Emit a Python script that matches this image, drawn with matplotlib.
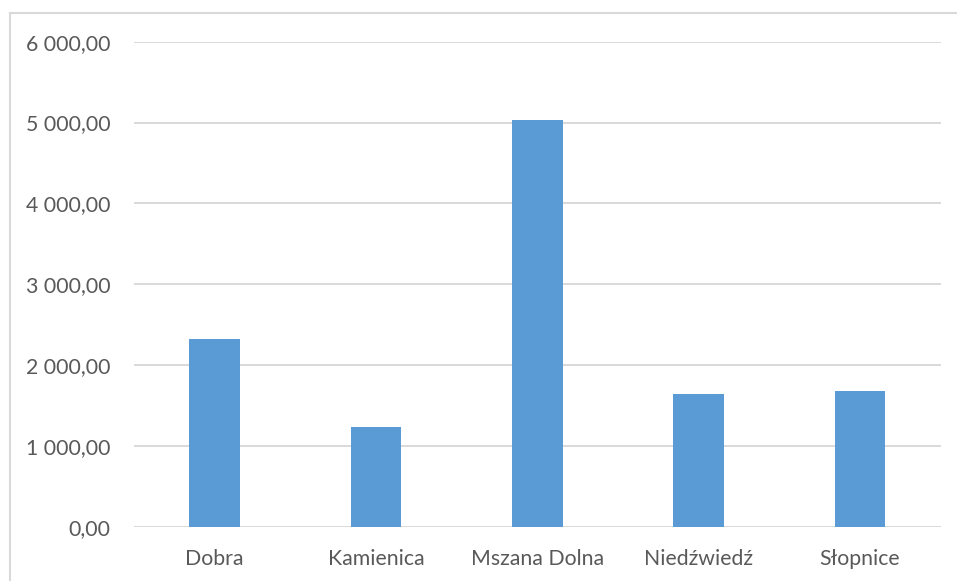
import matplotlib
matplotlib.use("Agg")
import matplotlib.pyplot as plt
from matplotlib.lines import Line2D
from matplotlib.ticker import FuncFormatter

categories = ["Dobra", "Kamienica", "Mszana Dolna", "Niedźwiedź", "Słopnice"]
values = [2330, 1232, 5027, 1641, 1682]
yticks = [0, 1000, 2000, 3000, 4000, 5000, 6000]

W, H = 957, 581
fig = plt.figure(figsize=(W / 100, H / 100), dpi=100)
fig.patch.set_facecolor("white")

left, right, top, bottom = 134, 940.7, 41.7, 527
ax = fig.add_axes([left / W, (H - bottom) / H, (right - left) / W, (bottom - top) / H])

x = list(range(len(categories)))
ax.bar(x, values, width=0.313, color="#5B9BD5", zorder=3)
ax.set_xlim(-0.5, len(categories) - 0.5)
ax.set_ylim(0, 6000)
ax.set_yticks(yticks)
ax.yaxis.set_major_formatter(FuncFormatter(lambda v, p: f"{v:,.2f}".replace(",", " ").replace(".", ",")))
ax.set_xticks(x)
ax.set_xticklabels(categories)
ax.grid(axis="y", color="#D9D9D9", linewidth=1.4, zorder=0)
for s in ax.spines.values():
    s.set_visible(False)
ax.tick_params(axis="both", length=0, labelsize=15.3, colors="#595959")
ax.tick_params(axis="y", pad=17)
ax.tick_params(axis="x", pad=16)
for lab in ax.get_xticklabels() + ax.get_yticklabels():
    lab.set_family("Lato")

# chart border (top and left visible)
fig.add_artist(Line2D([10 / W, 10 / W], [0, 1 - 13 / H], color="#D9D9D9", linewidth=1.5, transform=fig.transFigure))
fig.add_artist(Line2D([10 / W, 1], [1 - 13 / H, 1 - 13 / H], color="#D9D9D9", linewidth=1.5, transform=fig.transFigure))

fig.savefig("out.png", dpi=100, facecolor="white")
